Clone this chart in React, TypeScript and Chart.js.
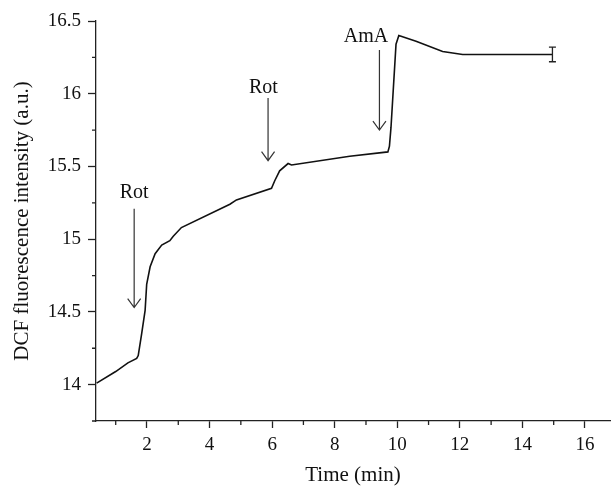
import React, { useEffect, useRef } from 'react';
import { Chart, registerables } from 'chart.js';

Chart.register(...registerables);

// Data
const timeMin = [0.39, 1.0, 1.39, 1.67, 1.72, 1.83, 1.94, 1.99, 2.1, 2.26, 2.47, 2.73, 2.84, 3.1, 4.65, 4.86, 5.98, 6.08, 6.24, 6.51, 6.62, 8.48, 9.7, 9.75, 9.8, 9.96, 10.05, 10.6, 11.45, 12.09, 13.84, 14.96];
const dcfIntensity = [14.01, 14.09, 14.15, 14.18, 14.2, 14.35, 14.51, 14.69, 14.81, 14.9, 14.96, 14.99, 15.02, 15.08, 15.24, 15.27, 15.35, 15.4, 15.47, 15.52, 15.51, 15.57, 15.6, 15.64, 15.77, 16.34, 16.4, 16.36, 16.29, 16.27, 16.27, 16.27];

const errorX = [14.96];
const errorY = [16.27];
const errorHalf = [0.05];

const xMajorTicks = [2, 4, 6, 8, 10, 12, 14, 16];
const xMinorTicks = [1, 3, 5, 7, 9, 11, 13, 15];
const yMajorTicks = [14, 14.5, 15, 15.5, 16, 16.5];
const yMinorTicks = [13.75, 14.25, 14.75, 15.25, 15.75, 16.25];

const arrowLabels = ['Rot', 'Rot', 'AmA'];
const arrowX = [1.59, 5.87, 9.43];
const arrowLabelX = [1.59, 5.72, 9.0];
const arrowLabelY = [15.32, 16.04, 16.39];
const arrowTop = [15.21, 15.97, 16.3];
const arrowTip = [14.53, 15.54, 15.75];

const FONT = "'Liberation Serif', 'DejaVu Serif', serif";

const overlayPlugin = {
  id: 'overlay',
  afterDraw(chart: any) {
    const ctx = chart.ctx;
    const xs = chart.scales.x;
    const ys = chart.scales.y;
    const area = chart.chartArea;
    ctx.save();
    ctx.strokeStyle = '#222';
    ctx.lineWidth = 1.3;
    // minor ticks
    ctx.beginPath();
    xMinorTicks.forEach((v) => {
      const px = xs.getPixelForValue(v);
      ctx.moveTo(px, area.bottom);
      ctx.lineTo(px, area.bottom + 4);
    });
    yMinorTicks.forEach((v) => {
      const py = ys.getPixelForValue(v);
      ctx.moveTo(area.left, py);
      ctx.lineTo(area.left - 4, py);
    });
    ctx.stroke();

    // error bars
    ctx.strokeStyle = '#222';
    ctx.lineWidth = 1.3;
    errorX.forEach((xv, i) => {
      const px = xs.getPixelForValue(xv);
      const top = ys.getPixelForValue(errorY[i] + errorHalf[i]);
      const bot = ys.getPixelForValue(errorY[i] - errorHalf[i]);
      ctx.beginPath();
      ctx.moveTo(px, top);
      ctx.lineTo(px, bot);
      ctx.moveTo(px - 3.5, top);
      ctx.lineTo(px + 3.5, top);
      ctx.moveTo(px - 3.5, bot);
      ctx.lineTo(px + 3.5, bot);
      ctx.stroke();
    });

    // arrows and labels
    ctx.strokeStyle = '#333';
    ctx.lineWidth = 1.2;
    ctx.fillStyle = '#111';
    ctx.font = `20px ${FONT}`;
    ctx.textAlign = 'center';
    ctx.textBaseline = 'middle';
    arrowX.forEach((xv, i) => {
      const px = xs.getPixelForValue(xv);
      const t = ys.getPixelForValue(arrowTop[i]);
      const b = ys.getPixelForValue(arrowTip[i]);
      ctx.beginPath();
      ctx.moveTo(px, t);
      ctx.lineTo(px, b);
      ctx.moveTo(px - 6.5, b - 9);
      ctx.lineTo(px, b);
      ctx.lineTo(px + 6.5, b - 9);
      ctx.stroke();
      ctx.fillText(arrowLabels[i], xs.getPixelForValue(arrowLabelX[i]), ys.getPixelForValue(arrowLabelY[i]));
    });
    ctx.restore();
  },
};

export default function App() {
  const canvasRef = useRef<HTMLCanvasElement | null>(null);

  useEffect(() => {
    if (!canvasRef.current) return;
    Chart.defaults.font.family = FONT;
    const chart = new Chart(canvasRef.current, {
      type: 'line',
      data: {
        datasets: [
          {
            data: timeMin.map((t, i) => ({ x: t, y: dcfIntensity[i] })),
            borderColor: '#111',
            borderWidth: 1.6,
            pointRadius: 0,
            tension: 0,
            fill: false,
          },
        ],
      },
      options: {
        animation: false,
        responsive: true,
        maintainAspectRatio: false,
        layout: { padding: { top: 21, right: 1, left: 0, bottom: 0 } },
        plugins: { legend: { display: false }, tooltip: { enabled: false } },
        scales: {
          x: {
            type: 'linear',
            min: 0.37,
            max: 16.8,
            afterBuildTicks: (scale: any) => {
              scale.ticks = xMajorTicks.map((v) => ({ value: v }));
            },
            afterFit: (scale: any) => {
              scale.height = 65;
            },
            border: { display: true, color: '#222', width: 1.3 },
            grid: { drawOnChartArea: false, tickLength: 7, color: '#222', tickWidth: 1.3 },
            ticks: { color: '#111', font: { size: 19, family: FONT }, padding: 6, maxRotation: 0, autoSkip: false },
            title: {
              display: true,
              text: 'Time (min)',
              color: '#111',
              font: { size: 21, family: FONT, lineHeight: 1 },
              padding: { top: 0, bottom: 0 },
            },
          },
          y: {
            type: 'linear',
            min: 13.75,
            max: 16.5,
            afterBuildTicks: (scale: any) => {
              scale.ticks = yMajorTicks.map((v) => ({ value: v }));
            },
            afterFit: (scale: any) => {
              scale.width = 96;
            },
            border: { display: true, color: '#222', width: 1.3 },
            grid: { drawOnChartArea: false, tickLength: 8, color: '#222', tickWidth: 1.3 },
            ticks: {
              color: '#111',
              font: { size: 19, family: FONT },
              padding: 7,
              autoSkip: false,
              callback: (v: any) => String(v),
            },
            title: {
              display: true,
              text: 'DCF fluorescence intensity (a.u.)',
              color: '#111',
              font: { size: 21, family: FONT, lineHeight: 1 },
              padding: { top: 11.5, bottom: 0 },
            },
          },
        },
      },
      plugins: [overlayPlugin],
    } as any);
    return () => chart.destroy();
  }, []);

  return (
    <div style={{ position: 'absolute', left: 0, top: 0, width: 611, height: 486, background: '#fff' }}>
      <canvas ref={canvasRef} />
    </div>
  );
}
